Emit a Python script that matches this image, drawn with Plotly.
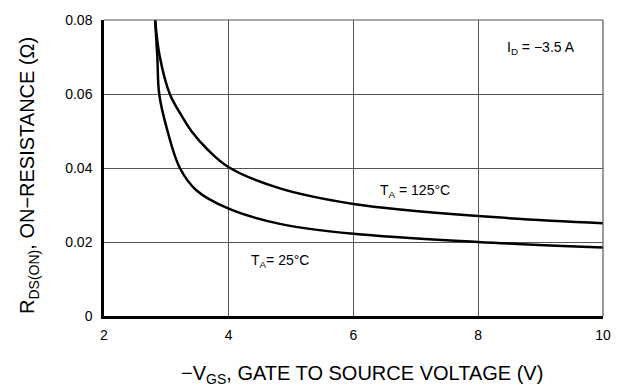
import plotly.graph_objects as go

# Data
v_125 = [2.82, 2.89, 3.055, 3.22, 3.40, 3.66, 4.0, 4.82, 6.0, 8.0, 10.0]
r_125 = [0.080, 0.0705, 0.060, 0.0548, 0.0500, 0.0450, 0.0402, 0.0345, 0.0303, 0.0270, 0.0251]
v_25 = [2.82, 2.855, 2.885, 3.01, 3.216, 3.48, 4.0, 4.82, 6.0, 8.0, 10.0]
r_25 = [0.080, 0.070, 0.060, 0.0505, 0.040, 0.0340, 0.0290, 0.0249, 0.0222, 0.0200, 0.0185]

x_ticks = [2, 4, 6, 8, 10]
y_ticks = [0, 0.02, 0.04, 0.06, 0.08]
y_tick_labels = ["0", "0.02", "0.04", "0.06", "0.08"]

FONT = "Liberation Sans, Arial, Helvetica, sans-serif"

fig = go.Figure()
for xs, ys in [(v_125, r_125), (v_25, r_25)]:
    fig.add_trace(go.Scatter(x=xs, y=ys, mode="lines",
                             line=dict(color="black", width=2.5, shape="spline", smoothing=1.0),
                             hoverinfo="skip", showlegend=False))

fig.update_layout(
    width=623, height=391,
    margin=dict(l=104, r=19, t=12, b=75),
    paper_bgcolor="white", plot_bgcolor="white",
    font=dict(family=FONT, color="black", size=14),
    xaxis=dict(range=[2, 10], tickvals=x_ticks, ticktext=[str(t) for t in x_ticks],
               showgrid=True, gridcolor="#555555", gridwidth=1.2,
               showline=True, linecolor="black", linewidth=2.5, mirror=False,
               ticks="", ticklabelstandoff=4, tickfont=dict(size=14), zeroline=False),
    yaxis=dict(range=[0, 0.08], tickvals=y_ticks, ticktext=y_tick_labels,
               showgrid=True, gridcolor="#555555", gridwidth=1.2,
               showline=True, linecolor="black", linewidth=2.5,
               ticks="", ticklabelstandoff=6, tickfont=dict(size=14), zeroline=False),
    shapes=[
        dict(type="line", xref="paper", yref="paper", x0=0, x1=1, y0=1, y1=1,
             line=dict(color="#555555", width=1.2)),
        dict(type="line", xref="paper", yref="paper", x0=1, x1=1, y0=0, y1=1,
             line=dict(color="#555555", width=1.2)),
    ],
    annotations=[
        dict(text="I<sub>D</sub> = −3.5 A", x=9.01, y=0.0725, xref="x", yref="y",
             xanchor="center", yanchor="middle", showarrow=False, font=dict(size=14)),
        dict(text="T<sub>A</sub> = 125°C", x=6.99, y=0.0338, xref="x", yref="y",
             xanchor="center", yanchor="middle", showarrow=False, font=dict(size=14)),
        dict(text="T<sub>A</sub>= 25°C", x=4.82, y=0.0150, xref="x", yref="y",
             xanchor="center", yanchor="middle", showarrow=False, font=dict(size=14)),
        dict(text="−V<sub>GS</sub>, GATE TO SOURCE VOLTAGE (V)",
             x=(363 - 104) / 500, y=-(376 - 316) / 304, xref="paper", yref="paper",
             xanchor="center", yanchor="middle", showarrow=False, font=dict(size=20)),
        dict(text="R<sub>DS(ON)</sub>, ON−RESISTANCE (Ω)", x=-(104 - 29) / 500,
             y=(316 - 172) / 304, xref="paper", yref="paper", textangle=-90,
             showarrow=False, font=dict(size=20), xanchor="center", yanchor="middle"),
    ],
)

fig.write_html("out.html", config={"displayModeBar": False},
               post_script="document.body.style.margin='0';")
